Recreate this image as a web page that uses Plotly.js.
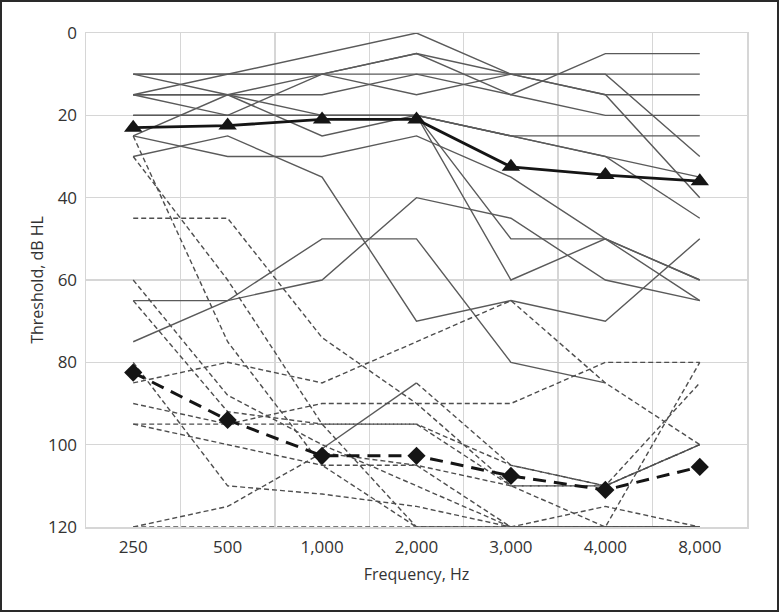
<!DOCTYPE html>
<html>
<head>
<meta charset="utf-8">
<script src="https://cdn.plot.ly/plotly-3.0.1.min.js"></script>
<style>
  html, body { margin: 0; padding: 0; background: #fff; }
  #wrap { position: relative; width: 779px; height: 612px; }
  #chart { width: 779px; height: 612px; }
  #frame { position: absolute; left: 0; top: 0; width: 779px; height: 612px; box-sizing: border-box; border: 2px solid #2a2a2a; pointer-events: none; }
</style>
</head>
<body>
<div id="wrap"><div id="chart"></div><div id="frame"></div></div>
<script>
// Frequency categories
const categories = ["250", "500", "1,000", "2,000", "3,000", "4,000", "8,000"];

// Group 1 (solid thin lines), thresholds in dB HL
const s01 = [15, 10, 5, 0, 10, 15, 15];
const s02 = [10, 10, 10, 10, 10, 10, 10];
const s03 = [10, 15, 25, 20, 25, 25, 25];
const s04 = [15, 15, 15, 10, 15, 5, 5];
const s05 = [15, 20, 10, 5, 15, 20, 20];
const s06 = [25, 15, 10, 15, 10, 15, 40];
const s07 = [20, 20, 20, 20, 25, 30, 35];
const s08 = [10, 10, 10, 5, 10, 10, 30];
const s09 = [20, 20, 20, 20, 25, 30, 45];
const s10 = [30, 25, 35, 70, 65, 70, 50];
const s11 = [25, 30, 30, 25, 35, 50, 60];
const s12 = [65, 65, 60, 40, 45, 60, 65];
const s13 = [75, 65, 50, 50, 80, 85, null];
const s14 = [20, 20, 20, 20, 50, 50, 65];
const s15 = [15, 15, 20, 20, 60, 50, 60];
const s16 = [null, null, 101, 85, null, null, null];

// Group 2 (dashed thin lines)
const d01 = [25, 75, 105, 120, 120, 120, 120];
const d02 = [30, 60, 95, 120, 120, 120, 120];
const d03 = [45, 45, 74, 90, 110, 120, 80];
const d04 = [60, 88, 100, 110, 120, 120, 120];
const d05 = [65, 92, 95, 95, 110, 110, 100];
const d06 = [85, 80, 85, 75, 65, 85, 100];
const d07 = [80, 110, 112, 115, 120, 120, 120];
const d08 = [90, 95, 90, 90, 90, 80, 80];
const d09 = [95, 95, 95, 95, 105, 110, 100];
const d10 = [95, 100, 105, 105, 120, 115, 120];
const d11 = [120, 115, 102, 105, 110, 110, 85];
const d12 = [120, 120, 120, 120, 120, 120, 120];
const d13 = [null, null, null, 85, 105, 110, 100];

// Group means
const meanSolid = [23, 22.5, 21, 21, 32.5, 34.5, 36];
const meanDashed = [82.5, 94, 102.7, 102.7, 107.6, 111, 105.4];

// Y tick values
const yTicks = [0, 20, 40, 60, 80, 100, 120];

const solidGroup = [s01, s02, s03, s04, s05, s06, s07, s08, s09, s10, s11, s12, s13, s14, s15, s16];
const dashedGroup = [d01, d02, d03, d04, d05, d06, d07, d08, d09, d10, d11, d12, d13];

const traces = [];
solidGroup.forEach(function (ys) {
  traces.push({ type: "scatter", mode: "lines", x: categories, y: ys,
    line: { color: "#5a5a5a", width: 1.4 }, hoverinfo: "skip", connectgaps: false });
});
dashedGroup.forEach(function (ys) {
  traces.push({ type: "scatter", mode: "lines", x: categories, y: ys,
    line: { color: "#4e4e4e", width: 1.4, dash: "5px,3px" }, hoverinfo: "skip", connectgaps: false });
});
traces.push({ type: "scatter", mode: "lines+markers", x: categories, y: meanSolid,
  line: { color: "#151515", width: 2.8 },
  marker: { symbol: "triangle-up", size: 16, color: "#151515" } });
traces.push({ type: "scatter", mode: "lines+markers", x: categories, y: meanDashed,
  line: { color: "#151515", width: 3, dash: "13px,8px" },
  marker: { symbol: "diamond", size: 14, color: "#151515" } });

const gridColor = "#d6d6d6";
const txt = "#333333";
const layout = {
  width: 779, height: 612,
  margin: { l: 86, r: 32, t: 33, b: 85 },
  paper_bgcolor: "#ffffff", plot_bgcolor: "#ffffff",
  showlegend: false,
  font: { family: "Open Sans, Noto Sans, sans-serif", color: txt, size: 17 },
  xaxis: {
    type: "category", categoryorder: "array", categoryarray: categories,
    range: [-0.5, 6.5], tickson: "boundaries", ticks: "",
    showgrid: true, gridcolor: gridColor, gridwidth: 1.5,
    showline: true, mirror: true, linecolor: gridColor, linewidth: 1.5,
    zeroline: false, fixedrange: true, ticklabelstandoff: 4,
    tickfont: { size: 17, color: txt },
    title: { text: "Frequency, Hz", font: { size: 16, color: txt }, standoff: 12 }
  },
  yaxis: {
    range: [120, 0], tickvals: yTicks, ticktext: yTicks.map(String), ticks: "",
    showgrid: true, gridcolor: gridColor, gridwidth: 1.5,
    showline: true, mirror: true, linecolor: gridColor, linewidth: 1.5,
    zeroline: false, fixedrange: true, ticklabelstandoff: 4,
    tickfont: { size: 17, color: txt },
    title: { text: "Threshold, dB HL", font: { size: 16, color: txt }, standoff: 0 }
  }
};

Plotly.newPlot("chart", traces, layout, { displayModeBar: false, staticPlot: true });
</script>
</body>
</html>
